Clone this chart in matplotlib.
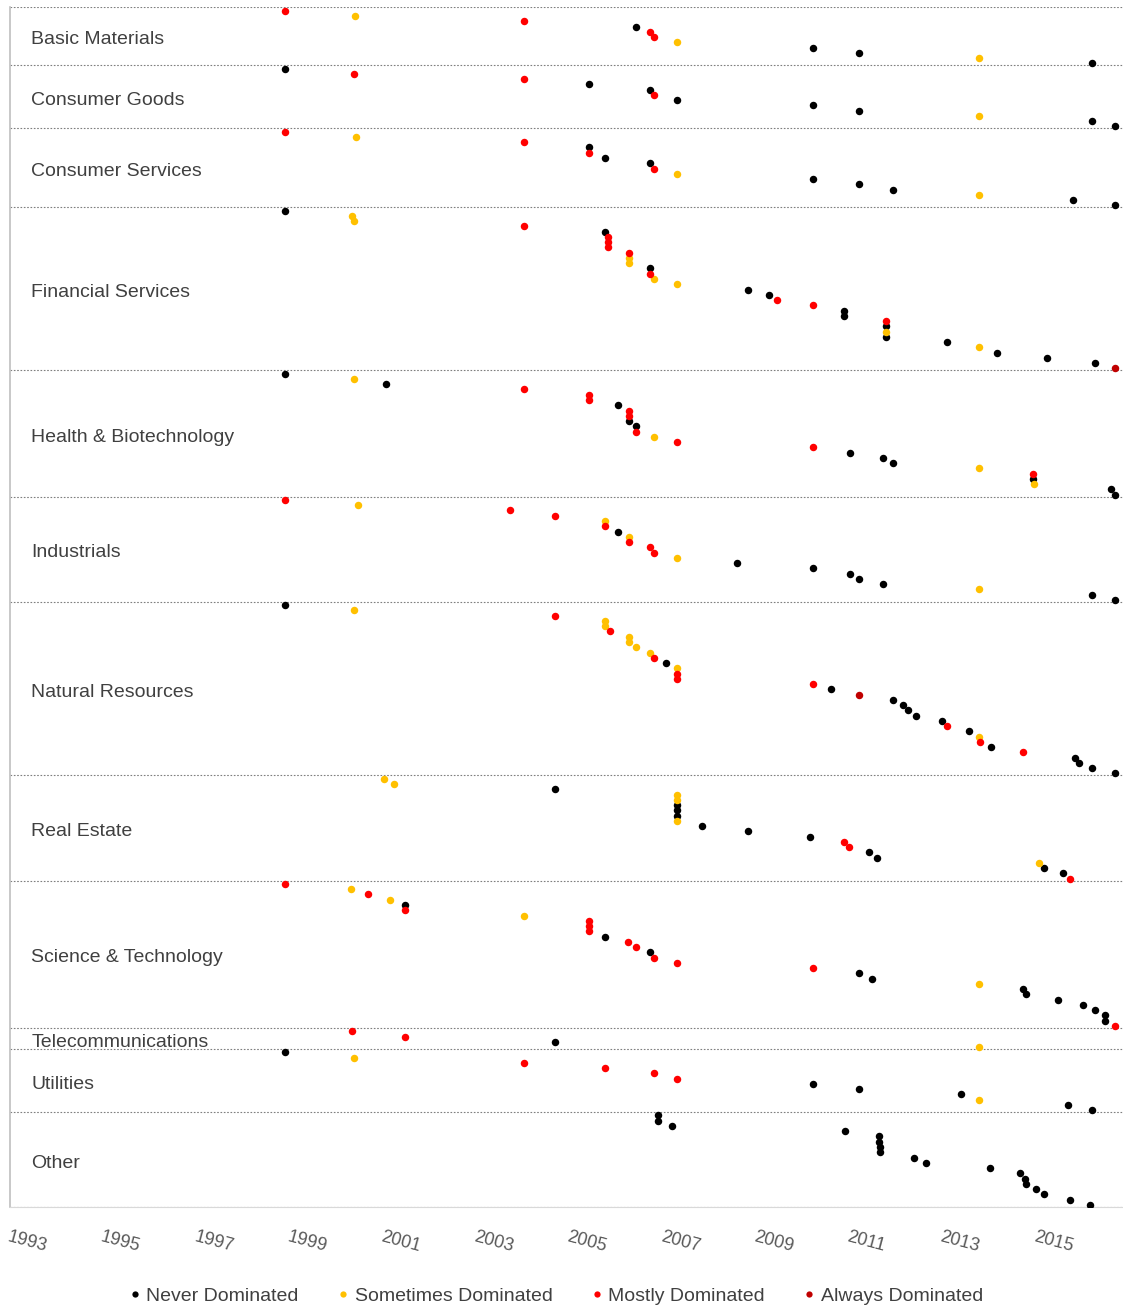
import matplotlib
matplotlib.use('Agg')
import matplotlib.pyplot as plt
import matplotlib.transforms as mtransforms
from matplotlib.lines import Line2D
import numpy as np

# --- data: year of each firm per sector, and its status code ---
# N = never, S = sometimes, M = mostly, A = always dominated
sectors = ['Basic Materials', 'Consumer Goods', 'Consumer Services', 'Financial Services',
           'Health & Biotechnology', 'Industrials', 'Natural Resources', 'Real Estate',
           'Science & Technology', 'Telecommunications', 'Utilities', 'Other']

basic_materials_years = [1998.90, 2000.39, 2004.02, 2006.41, 2006.72, 2006.80, 2007.30, 2010.22,
                         2011.20, 2013.77, 2016.19]
basic_materials_status = 'MSMNMMSNNSN'

consumer_goods_years = [1998.90, 2000.37, 2004.02, 2005.42, 2006.72, 2006.80, 2007.30, 2010.22,
                        2011.20, 2013.77, 2016.19, 2016.68]
consumer_goods_status = 'NMMNNMNNNSNN'

consumer_services_years = [1998.90, 2000.41, 2004.02, 2005.42, 2005.42, 2005.75, 2006.72, 2006.80,
                           2007.30, 2010.22, 2011.20, 2011.93, 2013.77, 2015.78, 2016.68]
consumer_services_status = 'MSMNMNNMSNNNSNN'

financial_years = [1998.90, 2000.34, 2000.38, 2004.02, 2005.75, 2005.81, 2005.81, 2005.81,
                   2006.28, 2006.28, 2006.28, 2006.72, 2006.72, 2006.80, 2007.30, 2008.82,
                   2009.27, 2009.44, 2010.22, 2010.88, 2010.88, 2011.79, 2011.79, 2011.79,
                   2011.79, 2013.08, 2013.77, 2014.15, 2015.23, 2016.26, 2016.68]
financial_status = 'NSSMNMMMMSSNMSSNNMMNNMNSNNSNNNA'

health_years = [1998.90, 2000.38, 2001.05, 2004.02, 2005.42, 2005.42, 2006.04, 2006.28, 2006.28,
                2006.28, 2006.41, 2006.41, 2006.80, 2007.30, 2010.22, 2011.01, 2011.71, 2011.93,
                2013.77, 2014.93, 2014.93, 2014.96, 2016.60, 2016.68]
health_status = 'NSNMMMNMMNNMSMMNNNSMNSNN'

industrials_years = [1998.90, 2000.46, 2003.71, 2004.68, 2005.75, 2005.75, 2006.04, 2006.28,
                     2006.28, 2006.72, 2006.80, 2007.30, 2008.59, 2010.22, 2011.01, 2011.20,
                     2011.71, 2013.77, 2016.19, 2016.68]
industrials_status = 'MSMMSMNSMMMSNNNNNSNN'

natural_years = [1998.90, 2000.38, 2004.68, 2005.75, 2005.75, 2005.87, 2006.28, 2006.28, 2006.41,
                 2006.72, 2006.80, 2007.07, 2007.30, 2007.30, 2007.30, 2010.22, 2010.60, 2011.20,
                 2011.93, 2012.15, 2012.25, 2012.43, 2012.99, 2013.08, 2013.55, 2013.77, 2013.79,
                 2014.02, 2014.71, 2015.84, 2015.92, 2016.19, 2016.68]
natural_status = 'NSMSSMSSSSMNSMMMNANNNNNMNSMNMNNNN'

real_estate_years = [2001.02, 2001.24, 2004.68, 2007.30, 2007.30, 2007.30, 2007.30, 2007.30,
                     2007.30, 2007.83, 2008.83, 2010.14, 2010.87, 2010.99, 2011.41, 2011.58,
                     2015.06, 2015.16, 2015.57, 2015.73]
real_estate_status = 'SSNSSNNNSNNNMMNNSNNM'

science_years = [1998.90, 2000.31, 2000.68, 2001.15, 2001.46, 2001.46, 2004.02, 2005.42, 2005.42,
                 2005.42, 2005.75, 2006.25, 2006.41, 2006.72, 2006.80, 2007.30, 2010.22, 2011.20,
                 2011.47, 2013.77, 2014.71, 2014.79, 2015.47, 2016.01, 2016.26, 2016.47, 2016.47,
                 2016.68]
science_status = 'MSMSNMSMMMNMMNMMMNNSNNNNNNNM'

telecom_years = [2000.33, 2001.47, 2004.68, 2013.77]
telecom_status = 'MMNS'

utilities_years = [1998.90, 2000.38, 2004.02, 2005.75, 2006.80, 2007.30, 2010.22, 2011.20,
                   2013.38, 2013.77, 2015.68, 2016.19]
utilities_status = 'NSMMMMNNNSNN'

other_years = [2006.90, 2006.90, 2007.19, 2010.89, 2011.63, 2011.63, 2011.65, 2011.65, 2012.37,
               2012.63, 2014.00, 2014.66, 2014.76, 2014.79, 2015.00, 2015.16, 2015.73, 2016.15]
other_status = 'N' * len(other_years)

sector_years = [basic_materials_years, consumer_goods_years, consumer_services_years,
                financial_years, health_years, industrials_years, natural_years,
                real_estate_years, science_years, telecom_years, utilities_years, other_years]
sector_status = [basic_materials_status, consumer_goods_status, consumer_services_status,
                 financial_status, health_status, industrials_status, natural_status,
                 real_estate_status, science_status, telecom_status, utilities_status,
                 other_status]

status_codes = ['N', 'S', 'M', 'A']
status_labels = ['Never Dominated', 'Sometimes Dominated', 'Mostly Dominated', 'Always Dominated']
status_colors = ['#000000', '#FFC000', '#FF0000', '#C00000']

year_ticks = list(range(1993, 2016, 2))

# --- one row per firm, sectors stacked top to bottom ---
xs, ys, codes = [], [], []
bounds = [-0.65]
row = 0
for yrs, st in zip(sector_years, sector_status):
    for yv, c in zip(yrs, st):
        xs.append(yv)
        ys.append(row)
        codes.append(c)
        row += 1
    bounds.append(row - 0.65)
xs, ys, codes = np.array(xs), np.array(ys), np.array(codes)

plt.rcParams['font.family'] = 'Liberation Sans'

fig = plt.figure(figsize=(11.23, 13.12), dpi=100, facecolor='white')
ax = fig.add_axes([10 / 1123, 1 - 1206.7 / 1312, 1113 / 1123, (1206.7 - 7.3) / 1312])

for code, col in zip(status_codes, status_colors):
    m = codes == code
    ax.scatter(xs[m], ys[m], s=29, color=col, linewidths=0, zorder=3)

for b in bounds:
    ax.axhline(b, color='#7F7F7F', linewidth=0.8, linestyle=(0, (1.5, 1.5)), zorder=1)

# sector names sit in the middle of their band
trans = mtransforms.blended_transform_factory(ax.transAxes, ax.transData)
for name, top, bot in zip(sectors, bounds[:-1], bounds[1:]):
    ax.text(0.019, (top + bot) / 2 + 0.7, name, transform=trans, fontsize=14, color='#404040',
            ha='left', va='center')

ax.set_xlim(1993, 2016.86)
ax.set_ylim(bounds[-1], bounds[0])
ax.set_yticks([])
ax.set_xticks(year_ticks)
ax.set_xticklabels([str(t) for t in year_ticks], rotation=-15, ha='left', va='top',
                   rotation_mode='anchor')
ax.tick_params(axis='x', length=0, pad=16, labelsize=13, labelcolor='#595959')

for s in ['top', 'right']:
    ax.spines[s].set_visible(False)
ax.spines['left'].set_color('#BFBFBF')
ax.spines['left'].set_linewidth(1.2)
ax.spines['bottom'].set_color('#D9D9D9')

handles = [Line2D([], [], linestyle='none', marker='o', markersize=4.5, color=c,
                  markeredgewidth=0) for c in status_colors]
fig.legend(handles, status_labels, loc='center', bbox_to_anchor=(0.495, 1 - 1296 / 1312),
           ncol=4, frameon=False, fontsize=14, handlelength=0.6, handletextpad=0.3,
           columnspacing=1.97, labelcolor='#404040')

fig.savefig('out.png', dpi=100, facecolor='white')
